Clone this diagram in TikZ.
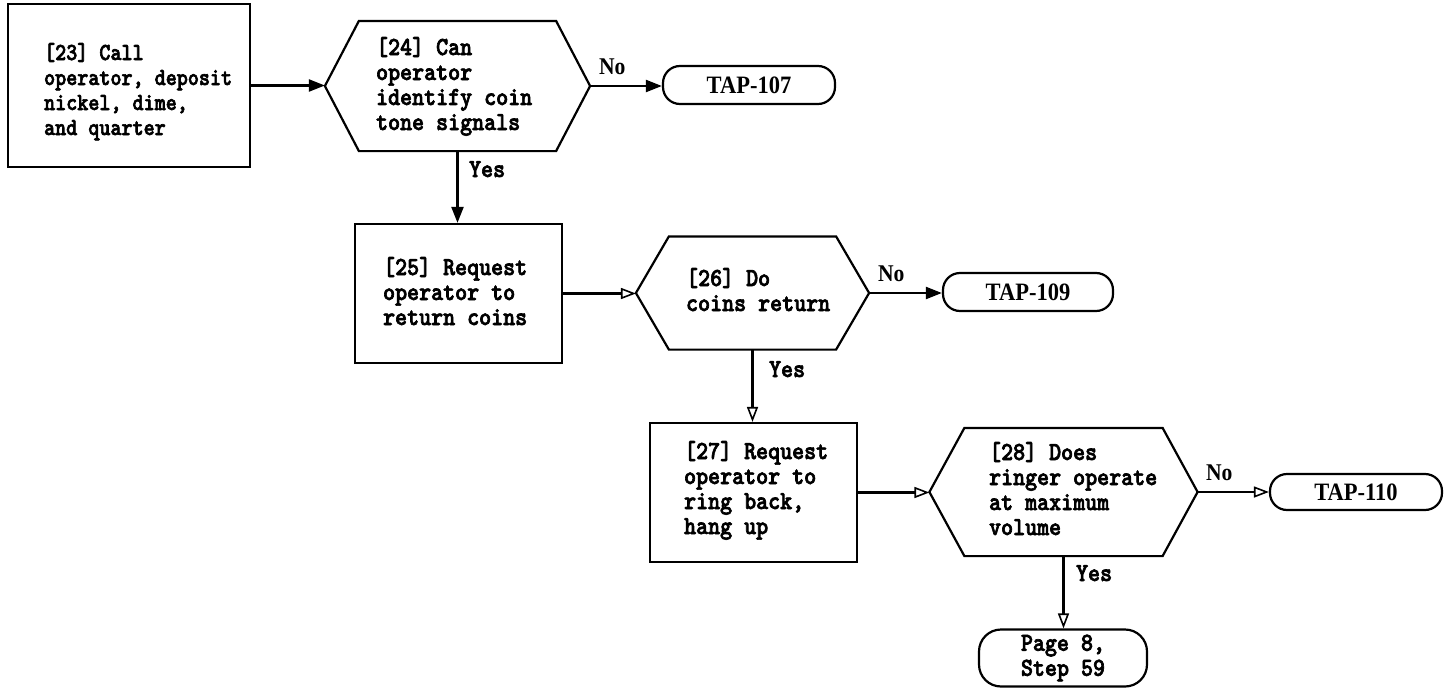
\documentclass[tikz,border=0pt]{standalone}
\usepackage{fontspec}
\usetikzlibrary{arrows.meta,calc}
\newfontfamily\monofam{lmmonolt10-bold.otf}[FakeStretch=0.88,FakeBold=2.5]
\newfontfamily\monofamsm{lmmonolt10-bold.otf}[FakeStretch=0.86,FakeBold=2.5]
\newfontfamily\labfam{Liberation Serif}[FakeStretch=0.9]
\newcommand\txtlines[2]{\vtop{\baselineskip=#1pt\lineskiplimit=-100pt\lineskip=0pt #2}}
\newcommand\hexdraw[2]{%
  \draw (#1.north west) -- (#1.north east) -- ($(#1.east)+(#2,0)$) -- (#1.south east)
        -- (#1.south west) -- ($(#1.west)+(-#2,0)$) -- cycle;
  \coordinate (#1-w) at ($(#1.west)+(-#2,0)$);
  \coordinate (#1-e) at ($(#1.east)+(#2,0)$);}
\begin{document}
\begin{tikzpicture}[x=1pt,y=-1pt,line width=2.2pt,
  box/.style={draw,rectangle,inner sep=0pt},
  flat/.style={draw=none,rectangle,inner sep=0pt},
  term/.style={draw,rectangle,rounded corners=17pt,inner sep=0pt,
    font=\labfam\bfseries\fontsize{25}{27}\selectfont},
  body/.style={inner sep=0pt,anchor=base west,
    font=\monofam\fontsize{26}{25}\selectfont},
  bodysmall/.style={body,font=\monofamsm\fontsize{24.5}{25}\selectfont},
  lab/.style={inner sep=0pt,anchor=base west,
    font=\labfam\bfseries\fontsize{24}{26}\selectfont},
  arr/.style={-{Triangle[length=16pt,width=12pt]}},
  arro/.style={-{Triangle[open,length=15pt,width=11pt,line width=1.6pt]}}]
\useasboundingbox (0,0) rectangle (1444,688);

% process boxes
\node[box,minimum width=242pt,minimum height=163pt] (b23) at (129,85.5) {};
\node[box,minimum width=207pt,minimum height=139pt] (b25) at (458.5,293.5) {};
\node[box,minimum width=207pt,minimum height=139pt] (b27) at (753.5,492.5) {};

% decision hexagons
\node[flat,minimum width=195pt,minimum height=128pt] (h24) at (457.5,86) {};
\hexdraw{h24}{34}
\node[flat,minimum width=165pt,minimum height=111pt] (h26) at (752.5,293) {};
\hexdraw{h26}{33}
\node[flat,minimum width=196pt,minimum height=126pt] (h28) at (1063.5,492) {};
\hexdraw{h28}{35}

% terminals
\node[term,minimum width=172pt,minimum height=38pt] (T107) at (749,85) {TAP-107};
\node[term,minimum width=170pt,minimum height=38pt] (T109) at (1028,292) {TAP-109};
\node[term,minimum width=172pt,minimum height=36pt] (T110) at (1356,492) {TAP-110};
\node[term,rounded corners=22pt,minimum width=168pt,minimum height=57pt,
  font=\monofam\fontsize{26}{25}\selectfont] (P8) at (1063,658)
  {\txtlines{25}{\hbox{Page 8,}\hbox{Step 59}}};

% texts
\node[bodysmall] (t23) at (43,60) {\txtlines{25}{\hbox{[23] Call}\hbox{operator, deposit}\hbox{nickel, dime,}\hbox{and quarter}}};
\node[body] (t24) at (375,55) {\txtlines{25}{\hbox{[24] Can}\hbox{operator}\hbox{identify coin}\hbox{tone signals}}};
\node[body] (t25) at (382,275) {\txtlines{25}{\hbox{[25] Request}\hbox{operator to}\hbox{return coins}}};
\node[body] (t26) at (685,286) {\txtlines{25}{\hbox{[26] Do}\hbox{coins return}}};
\node[body] (t27) at (683,459) {\txtlines{25}{\hbox{[27] Request}\hbox{operator to}\hbox{ring back,}\hbox{hang up}}};
\node[body] (t28) at (988,460) {\txtlines{25}{\hbox{[28] Does}\hbox{ringer operate}\hbox{at maximum}\hbox{volume}}};

% labels
\node[lab] (n24) at (598,74) {No};
\node[body] (y24) at (468,177) {Yes};
\node[lab] (n26) at (877,281) {No};
\node[body] (y26) at (768,377) {Yes};
\node[lab] (n28) at (1205,480) {No};
\node[body] (y28) at (1075,581) {Yes};

% connectors
\draw[arr] (b23.east) -- (b23.east -| h24-w);
\draw[arr] (h24-e) -- (h24-e -| T107.west);
\draw[arr] (h24.south) -- (h24.south |- b25.north);
\draw[arro] (b25.east) -- (b25.east -| h26-w);
\draw[arr] (h26-e) -- (h26-e -| T109.west);
\draw[arro] (h26.south) -- (h26.south |- b27.north);
\draw[arro] (b27.east) -- (b27.east -| h28-w);
\draw[arro] (h28-e) -- (h28-e -| T110.west);
\draw[arro] (h28.south) -- (h28.south |- P8.north);
\end{tikzpicture}
\end{document}
